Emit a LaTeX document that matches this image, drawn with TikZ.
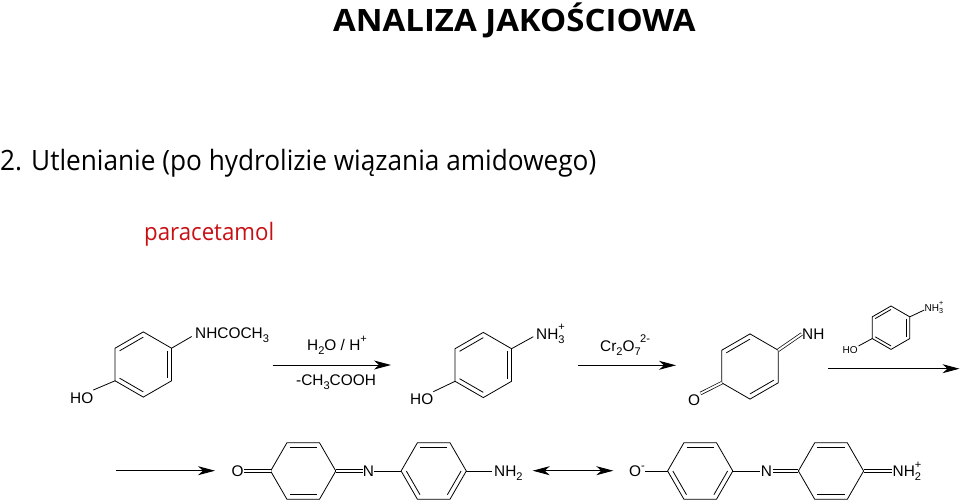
\documentclass[tikz,border=0pt]{standalone}
\usepackage{fontspec}
\setmainfont{Liberation Sans}
\newfontfamily\headfont{Open Sans}
\usetikzlibrary{arrows.meta,calc}
\definecolor{parared}{RGB}{200,16,20}
\newcommand{\lsub}[1]{\raisebox{-.28em}{\scalebox{.72}{#1}}}
\newcommand{\lsup}[1]{\raisebox{.48em}{\scalebox{.72}{#1}}}
\newcommand{\lboth}[2]{\rlap{\raisebox{-.28em}{\scalebox{.72}{#1}}}\raisebox{.55em}{\scalebox{.72}{#2}}}
\newcommand{\mkring}[4]{% name, centre, radius, rotation
  \coordinate (#1) at #2;
  \foreach \i in {0,...,5}{\coordinate (#1-\i) at ($(#1)+({#4+60*\i}:#3)$);}
  \draw[bond] (#1-0)--(#1-1)--(#1-2)--(#1-3)--(#1-4)--(#1-5)--cycle;}
\newcommand{\inner}[3]{\draw[bond] ($(#1)!.84!(#1-#2)$)--($(#1)!.84!(#1-#3)$);}
\tikzset{
  bond/.style={line width=.8pt,line join=miter},
  dbond/.style={double,double distance=2pt,line width=.7pt},
  lab/.style={font=\fontsize{15.4}{15.4}\selectfont,inner sep=0pt},
  smalllab/.style={font=\fontsize{10}{10}\selectfont,inner sep=0pt},
  rxnarrow/.style={line width=1pt,-{Stealth[length=17pt,width=9pt,inset=5pt]}},
  resarrow/.style={line width=1pt,{Stealth[length=17pt,width=9pt,inset=5pt]}-{Stealth[length=17pt,width=9pt,inset=5pt]}},
}
\begin{document}
\begin{tikzpicture}[x=1pt,y=-1pt]
\useasboundingbox (0,0) rectangle (960,503);
% texts
\node[font=\headfont\bfseries\fontsize{30.8}{31}\selectfont,inner sep=0pt,anchor=base west] (title) at (333,31.7) {\resizebox{362.5pt}{\height}{ANALIZA JAKOŚCIOWA}};
\node[font=\headfont\fontsize{28}{28}\selectfont,inner sep=0pt,anchor=base west] (head) at (0,170) {\resizebox{596pt}{\height}{2. Utlenianie (po hydrolizie wiązania amidowego)}};
\node[font=\headfont\fontsize{24}{24}\selectfont,inner sep=0pt,anchor=base west,text=parared] (para) at (144,240.3) {\resizebox{130pt}{\height}{paracetamol}};
% paracetamol
\mkring{a}{(143.3,364.5)}{32.6}{-90}
\inner{a}{1}{2}\inner{a}{3}{4}\inner{a}{5}{0}
\node[lab,anchor=base west] (a1) at (195,338) {NHCOCH\lsub{3}};
\node[lab,anchor=base west] (a2) at (70,403) {HO};
\draw[bond] (a-1)--(191.7,336.5) coordinate (a1b);
\draw[bond] (a-4)--(93.3,390) coordinate (a2b);
% arrow 1
\coordinate (r1s) at (272.7,365); \coordinate (r1e) at (391,365);
\draw[rxnarrow] (r1s)--(r1e);
\node[lab,anchor=base west] (r1t) at (307,350) {H\lsub{2}O / H\lsup{+}};
\node[lab,anchor=base west] (r1b) at (296,385) {-CH\lsub{3}COOH};
% aminophenol
\mkring{b}{(483.3,365)}{32.6}{-90}
\inner{b}{1}{2}\inner{b}{3}{4}\inner{b}{5}{0}
\node[lab,anchor=base west] (b1) at (536,339) {NH\lboth{3}{+}};
\node[lab,anchor=base west] (b2) at (410,404) {HO};
\draw[bond] (b-1)--(533.3,336.7);
\draw[bond] (b-4)--(433.3,391.7);
% arrow 2
\coordinate (r2s) at (578,365.3); \coordinate (r2e) at (676,365.3);
\draw[rxnarrow] (r2s)--(r2e);
\node[lab,anchor=base west] (r2t) at (600,351) {Cr\lsub{2}O\lboth{7}{\hspace{.5em}2-}};
% quinone imine
\mkring{c}{(750,366.5)}{32.6}{-90}
\inner{c}{5}{0}\inner{c}{2}{3}
\node[lab,anchor=base west] (c1) at (802,339) {NH};
\node[lab,anchor=base west] (c2) at (688,405) {O};
\draw[dbond] (c-1)--(801.7,334);
\draw[dbond] (c-4)--(700.5,393.5);
% small reagent
\mkring{d}{(891,327.7)}{21.7}{-90}
\inner{d}{1}{2}\inner{d}{3}{4}\inner{d}{5}{0}
\node[smalllab,anchor=base west] (d1) at (924.5,311) {NH\lboth{3}{+}};
\node[smalllab,anchor=base west] (d2) at (842.5,353) {HO};
\draw[bond] (d-1)--(924.3,310);
\draw[bond] (d-4)--(858.5,346);
% arrow 3
\coordinate (r3s) at (828,368.7); \coordinate (r3e) at (959.5,368.7);
\draw[rxnarrow] (r3s)--(r3e);
% arrow 4
\coordinate (r4s) at (116,470.7); \coordinate (r4e) at (215,470.7);
\draw[rxnarrow] (r4s)--(r4e);
% product 1
\mkring{e}{(303.2,471)}{32.6}{0}
\inner{e}{4}{5}\inner{e}{1}{2}
\mkring{f}{(433.7,471)}{32.6}{0}
\inner{f}{4}{5}\inner{f}{0}{1}\inner{f}{2}{3}
\node[lab,anchor=base] (e1) at (237.5,476.5) {O};
\node[lab,anchor=base] (e2) at (368.5,476.5) {N};
\node[lab,anchor=base west] (f1) at (494,476.5) {NH\lsub{2}};
\draw[dbond] (e-3)--(243.5,471);
\draw[dbond] (e-0)--(363,471);
\draw[bond] (374,471)--(f-3);
\draw[bond] (f-0)--(491.5,471);
% resonance arrow
\coordinate (r5s) at (532.7,470.7); \coordinate (r5e) at (613.3,470.7);
\draw[resarrow] (r5s)--(r5e);
% product 2
\mkring{g}{(700.2,471)}{32.6}{0}
\inner{g}{4}{5}\inner{g}{0}{1}\inner{g}{2}{3}
\mkring{h}{(831,471)}{32.6}{0}
\inner{h}{4}{5}\inner{h}{1}{2}
\node[lab,anchor=base west] (g1) at (629,476.5) {O\lsup{-}};
\node[lab,anchor=base] (g2) at (766.5,476.5) {N};
\node[lab,anchor=base west] (h1) at (892.5,476.5) {NH\lboth{2}{+}};
\draw[bond] (g-3)--(645,471);
\draw[bond] (g-0)--(759.5,471);
\draw[dbond] (772.5,471)--(h-3);
\draw[dbond] (h-0)--(892,471);
\end{tikzpicture}
\end{document}
